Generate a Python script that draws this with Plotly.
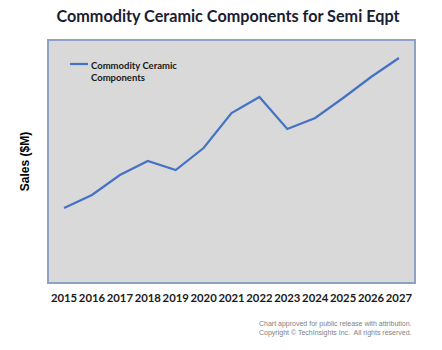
import plotly.graph_objects as go

years = ["2015", "2016", "2017", "2018", "2019", "2020", "2021", "2022", "2023", "2024", "2025", "2026", "2027"]
sales = [74, 87, 107, 121, 112, 134, 169, 185, 153, 164, 184, 205, 224]
series_name = "Commodity Ceramic<br>Components"
title = "Commodity Ceramic Components for Semi Eqpt"
y_title = "Sales ($M)"
footnote = "Chart approved for public release with attribution.<br>Copyright © TechInsights Inc.  All rights reserved."

W, H = 442, 350
ml, mr, mt, mb = 49, 28, 41, 68

fig = go.Figure()
fig.add_trace(go.Scatter(x=list(range(len(years))), y=sales, mode="lines",
                         line=dict(color="#4472C4", width=2.2), showlegend=False,
                         hoverinfo="skip"))

fig.update_layout(
    width=W, height=H,
    margin=dict(l=ml, r=mr, t=mt, b=mb),
    paper_bgcolor="white",
    plot_bgcolor="#D9D9D9",
    title=dict(text="<b>" + title + "</b>", x=228 / W, xanchor="center", y=1 - 16 / H, yanchor="middle",
               font=dict(family="Lato", size=16.2, color="#1A2030")),
    xaxis=dict(range=[-0.54, 12.54], tickmode="array", tickvals=list(range(len(years))),
               ticktext=["<b>" + y + "</b>" for y in years], showgrid=False, zeroline=False,
               showline=True, linecolor="#8FA2C4", linewidth=1.5, mirror=True, ticks="",
               tickangle=0, ticklabelstandoff=5,
               tickfont=dict(family="Lato", size=11.3, color="#1A1A1A")),
    yaxis=dict(range=[0, 241], showticklabels=False, showgrid=False, zeroline=False,
               showline=True, linecolor="#8FA2C4", linewidth=1.5, mirror=True, ticks="",
               title=dict(text="<b>" + y_title + "</b>", standoff=15,
                          font=dict(family="Liberation Sans", size=12, color="#000000"))),
)

# manual legend inside plot area (paper coordinates)
def px(x):
    return (x - ml) / (W - ml - mr)

def py(y):
    return 1 - (y - mt) / (H - mt - mb)

fig.add_shape(type="line", xref="paper", yref="paper", x0=px(70), x1=px(88), y0=py(64), y1=py(64),
              line=dict(color="#4472C4", width=2.2))
fig.add_annotation(xref="paper", yref="paper", x=px(89), y=py(58), xanchor="left", yanchor="top",
                   text="<b>" + series_name + "</b>", showarrow=False, align="left",
                   font=dict(family="Lato", size=9.5, color="#1A1A1A"))

fig.add_annotation(xref="paper", yref="paper", x=px(414), y=py(318), xanchor="right", yanchor="top",
                   text=footnote, showarrow=False, align="right",
                   font=dict(family="Liberation Sans", size=7, color="#7F7F7F"))

fig.write_html("out.html")
